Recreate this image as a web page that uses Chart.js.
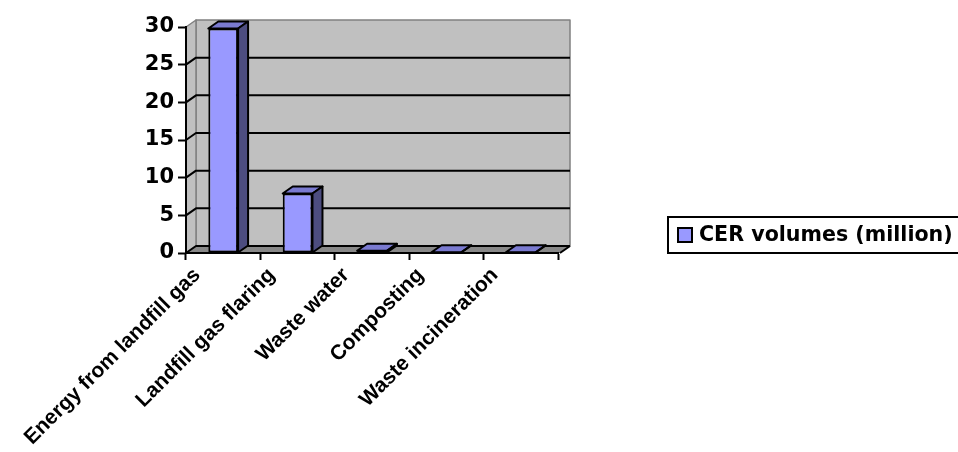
<!DOCTYPE html>
<html>
<head>
<meta charset="utf-8">
<title>CER volumes</title>
<script src="https://cdn.jsdelivr.net/npm/chart.js@4.4.1/dist/chart.umd.min.js"></script>
<style>
  html, body { margin: 0; padding: 0; background: #fff; }
  #wrap { width: 958px; height: 452px; position: relative; }
</style>
</head>
<body>
<div id="wrap"><canvas id="chart"></canvas></div>
<script>
const categories = ['Energy from landfill gas', 'Landfill gas flaring', 'Waste water', 'Composting', 'Waste incineration'];
const cerVolumes = [29.8, 7.9, 0.3, 0.1, 0.1];
const seriesLabel = 'CER volumes (million)';
const yTicks = [0, 5, 10, 15, 20, 25, 30];

// depth of the fake 3d look
const DX = 10, DY = -7;

const wallPlugin = {
  id: 'walls',
  beforeDraw(chart) {
    const { ctx, chartArea: a } = chart;
    const yScale = chart.scales.y;
    ctx.save();
    ctx.lineJoin = 'round';

    // back wall
    ctx.fillStyle = '#c0c0c0';
    ctx.strokeStyle = '#808080';
    ctx.lineWidth = 1.5;
    ctx.fillRect(a.left + DX, a.top + DY, a.right - a.left + 2, a.bottom - a.top);
    ctx.strokeRect(a.left + DX, a.top + DY, a.right - a.left + 2, a.bottom - a.top);

    // left wall
    ctx.beginPath();
    ctx.moveTo(a.left, a.top);
    ctx.lineTo(a.left + DX, a.top + DY);
    ctx.lineTo(a.left + DX, a.bottom + DY);
    ctx.lineTo(a.left, a.bottom);
    ctx.closePath();
    ctx.fill();
    ctx.stroke();

    // floor
    ctx.fillStyle = '#888888';
    ctx.beginPath();
    ctx.moveTo(a.left, a.bottom);
    ctx.lineTo(a.left + DX, a.bottom + DY);
    ctx.lineTo(a.right + DX + 2, a.bottom + DY);
    ctx.lineTo(a.right + 2, a.bottom);
    ctx.closePath();
    ctx.fill();
    ctx.strokeStyle = '#000';
    ctx.lineWidth = 2;
    ctx.beginPath();
    ctx.moveTo(a.right + 2, a.bottom);
    ctx.lineTo(a.right + DX + 2, a.bottom + DY);
    ctx.stroke();

    // grid lines on the walls
    ctx.strokeStyle = '#000';
    ctx.lineWidth = 2;
    yTicks.forEach(v => {
      if (v === yScale.max) return;
      const py = yScale.getPixelForValue(v);
      ctx.beginPath();
      ctx.moveTo(a.left, py);
      ctx.lineTo(a.left + DX, py + DY);
      ctx.lineTo(a.right + DX + 2, py + DY);
      ctx.stroke();
    });
    ctx.restore();
  },
  afterDatasetsDraw(chart) {
    const { ctx } = chart;
    const meta = chart.getDatasetMeta(0);
    ctx.save();
    ctx.strokeStyle = '#000';
    ctx.lineWidth = 2;
    ctx.lineJoin = 'round';
    meta.data.forEach(bar => {
      const { x, y, base, width } = bar.getProps(['x', 'y', 'base', 'width'], true);
      const l = x - width / 2, r = x + width / 2;
      // top face
      ctx.fillStyle = '#7a7ad0';
      ctx.beginPath();
      ctx.moveTo(l, y);
      ctx.lineTo(l + DX, y + DY);
      ctx.lineTo(r + DX, y + DY);
      ctx.lineTo(r, y);
      ctx.closePath();
      ctx.fill();
      ctx.stroke();
      // side face
      ctx.fillStyle = '#4d4d80';
      ctx.beginPath();
      ctx.moveTo(r, y);
      ctx.lineTo(r + DX, y + DY);
      ctx.lineTo(r + DX, base + DY);
      ctx.lineTo(r, base);
      ctx.closePath();
      ctx.fill();
      ctx.stroke();
    });
    ctx.restore();
  },
  afterDraw(chart) {
    const { ctx } = chart;
    const ds = chart.data.datasets[0];
    ctx.save();
    ctx.fillStyle = '#fff';
    ctx.strokeStyle = '#000';
    ctx.lineWidth = 2;
    ctx.fillRect(668, 217, 300, 36);
    ctx.strokeRect(668, 217, 300, 36);
    ctx.fillStyle = ds.backgroundColor;
    ctx.lineWidth = 2;
    ctx.fillRect(678, 228, 14, 14);
    ctx.strokeRect(678, 228, 14, 14);
    ctx.fillStyle = '#000';
    ctx.font = 'bold 20.6px "DejaVu Sans"';
    ctx.textBaseline = 'middle';
    ctx.fillText(ds.label, 699, 236);
    ctx.restore();
  }
};

Chart.defaults.font.family = '"DejaVu Sans", sans-serif';
Chart.defaults.font.weight = 'bold';
Chart.defaults.font.size = 21;
Chart.defaults.color = '#000';

const ctx = document.getElementById('chart').getContext('2d');
new Chart(ctx, {
  type: 'bar',
  data: {
    labels: categories,
    datasets: [{
      label: seriesLabel,
      data: cerVolumes,
      backgroundColor: '#9999ff',
      borderColor: '#000',
      borderWidth: 2,
      borderSkipped: false,
      categoryPercentage: 0.8,
      barPercentage: 0.5
    }]
  },
  options: {
    responsive: true,
    maintainAspectRatio: false,
    animation: false,
    layout: { padding: { left: 136, right: 400, top: 27, bottom: 0 } },
    plugins: {
      legend: { display: false },
      tooltip: { enabled: false }
    },
    scales: {
      x: {
        grid: { color: 'rgba(0,0,0,0)', tickColor: '#000', tickWidth: 2, tickLength: 7, offset: true },
        border: { color: '#000', width: 2 },
        ticks: {
          minRotation: 45, maxRotation: 45, autoSkip: false, labelOffset: -26, padding: 3,
          font: { family: '"Liberation Sans", Arial, sans-serif', size: 21, weight: 'bold' }
        },
        afterFit(scale) { scale.height = 199; }
      },
      y: {
        min: 0,
        max: 30,
        grid: { color: 'rgba(0,0,0,0)', tickColor: '#000', tickWidth: 2, tickLength: 8 },
        border: { color: '#000', width: 2 },
        ticks: { stepSize: 5, padding: 4 },
        afterFit(scale) { scale.width = 50; }
      }
    }
  },
  plugins: [wallPlugin]
});
</script>
</body>
</html>
